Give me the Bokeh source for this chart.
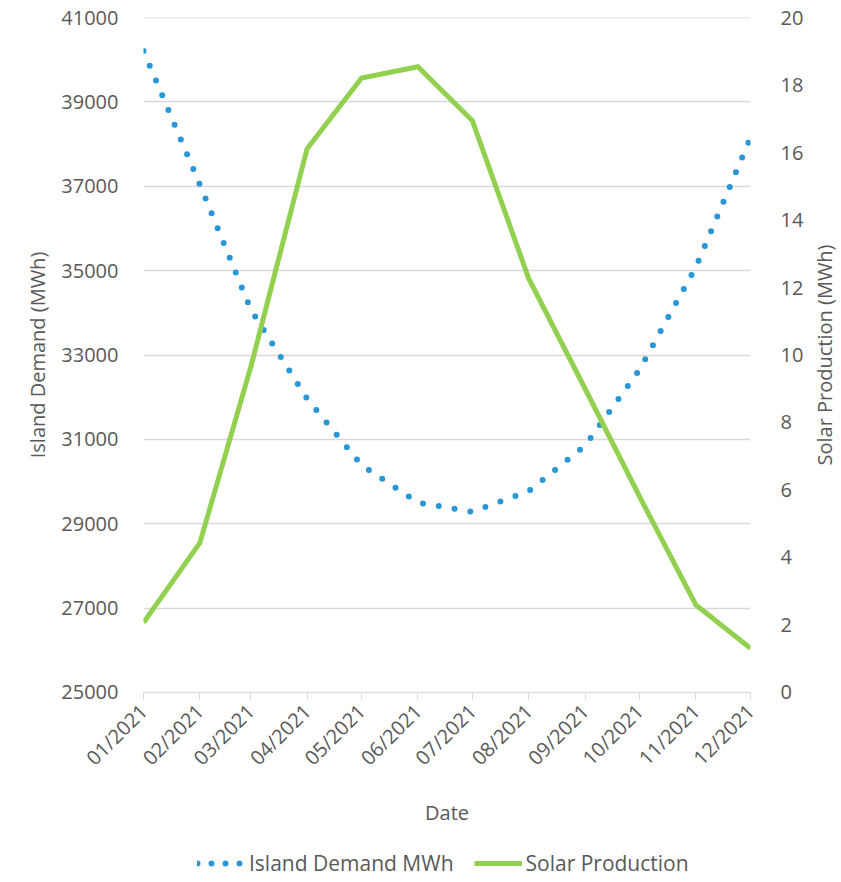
import math
import datetime as dt
from bokeh.plotting import figure
from bokeh.layouts import row, column
from bokeh.models import (Range1d, LinearAxis, DatetimeTickFormatter, FixedTicker,
                          Legend, LegendItem, ColumnDataSource)
from bokeh.embed import file_html
from bokeh.resources import INLINE

months = [dt.datetime(2021, m, 1) for m in range(1, 13)]
demand_mwh = [40205, 37040, 34082, 31963, 30389, 29502, 29282, 29774, 30851, 32661, 35088, 38150]
solar_mwh = [2.07, 4.43, 9.64, 16.11, 18.21, 18.54, 16.94, 12.26, 9.0, 5.8, 2.59, 1.31]
demand_ticks = list(range(25000, 41001, 2000))
solar_ticks = list(range(0, 21, 2))

TEXT = "#595959"
GRID = "#D9D9D9"
BLUE = "#2997D5"
GREEN = "#92D050"
FONT = "Open Sans"

src = ColumnDataSource(dict(x=months, demand=demand_mwh, solar=solar_mwh))
month_ms = [m.replace(tzinfo=dt.timezone.utc).timestamp() * 1000 for m in months]
pad = 60 * 1000  # one minute

MAIN_W, MAIN_H = 808, 845
p = figure(width=MAIN_W, height=MAIN_H, x_axis_type="datetime", output_backend="svg",
           toolbar_location=None, min_border_left=143, min_border_right=MAIN_W - 750,
           min_border_top=17, min_border_bottom=MAIN_H - 692,
           x_range=Range1d(month_ms[0] - pad, month_ms[-1] + pad),
           y_range=Range1d(25000 - 0.5, 41000 + 0.5))
p.outline_line_color = None
p.extra_y_ranges = {"solar": Range1d(0 - 0.0005, 20 + 0.0005)}

# x axis
xa = p.xaxis[0]
xa.ticker = FixedTicker(ticks=month_ms)
xa.formatter = DatetimeTickFormatter(months="%m/%Y", days="%m/%Y", hours="%m/%Y")
xa.major_label_orientation = math.pi / 4
xa.axis_line_color = GRID
xa.major_tick_line_color = GRID
xa.major_tick_out = 7
xa.major_tick_in = 0
xa.minor_tick_line_color = None
xa.major_label_standoff = 8
xa.axis_label = "Date"
xa.axis_label_standoff = 16

# left axis
ya = p.yaxis[0]
ya.ticker = FixedTicker(ticks=demand_ticks)
ya.axis_line_color = None
ya.major_tick_line_color = None
ya.minor_tick_line_color = None
ya.major_label_standoff = 19
ya.axis_label = "Island Demand (MWh)"
ya.axis_label_standoff = 7

# right axis (title drawn in the narrow figure beside, reading upward)
ra = LinearAxis(y_range_name="solar", ticker=FixedTicker(ticks=solar_ticks))
ra.axis_line_color = None
ra.major_tick_line_color = None
ra.minor_tick_line_color = None
ra.major_label_standoff = 24
p.add_layout(ra, "right")

for ax in [xa, ya, ra]:
    ax.major_label_text_font = FONT
    ax.major_label_text_font_size = "20px"
    ax.major_label_text_color = TEXT
    ax.axis_label_text_font = FONT
    ax.axis_label_text_font_size = "20px"
    ax.axis_label_text_font_style = "normal"
    ax.axis_label_text_color = TEXT

p.xgrid.grid_line_color = None
p.ygrid.grid_line_color = GRID
p.ygrid.grid_line_width = 1.5

r_dem = p.line("x", "demand", source=src, line_color=BLUE, line_width=6,
               line_dash="0 16", line_cap="round")
r_sol = p.line("x", "solar", source=src, y_range_name="solar", line_color=GREEN,
               line_width=5, line_join="miter")

# narrow figure holding the right-hand axis title
T_W = 841 - MAIN_W
t = figure(width=T_W, height=MAIN_H, output_backend="svg", toolbar_location=None,
           x_axis_location=None, min_border_left=T_W - 2, min_border_right=0,
           min_border_top=17, min_border_bottom=MAIN_H - 692,
           x_range=Range1d(0, 1), y_range=Range1d(0, 1))
t.outline_line_color = None
t.grid.grid_line_color = None
ta = t.yaxis[0]
ta.ticker = FixedTicker(ticks=[])
ta.axis_line_color = None
ta.major_tick_line_color = None
ta.minor_tick_line_color = None
ta.major_tick_out = 0
ta.major_label_standoff = 0
ta.axis_label = "Solar Production (MWh)"
ta.axis_label_standoff = 4
ta.axis_label_text_font = FONT
ta.axis_label_text_font_size = "20px"
ta.axis_label_text_font_style = "normal"
ta.axis_label_text_color = TEXT

# legend strip (its renderers use the same data, but lie outside this strip's ranges)
L_H = 882 - MAIN_H
lf = figure(width=841, height=L_H, output_backend="svg", toolbar_location=None,
            x_axis_location=None, y_axis_location=None, min_border=0,
            x_range=Range1d(0, 1), y_range=Range1d(0, 1))
lf.outline_line_color = None
lf.grid.grid_line_color = None
ld = lf.line("x", "demand", source=src, line_color=BLUE, line_width=6,
             line_dash="0 14", line_cap="round")
ls = lf.line("x", "solar", source=src, line_color=GREEN, line_width=5)
legend = Legend(items=[LegendItem(label="Island Demand MWh", renderers=[ld]),
                       LegendItem(label="Solar Production", renderers=[ls])],
                orientation="horizontal", location=(197, 5))
legend.border_line_color = None
legend.background_fill_alpha = 0
legend.label_text_font = FONT
legend.label_text_font_size = "21px"
legend.label_text_color = TEXT
legend.glyph_width = 48
legend.glyph_height = 20
legend.label_height = 20
legend.label_standoff = 4
legend.spacing = 20
legend.padding = 0
legend.margin = 0
lf.add_layout(legend, "center")

layout = column(row(p, t), lf)
open("out.html", "w").write(file_html(layout, INLINE))
